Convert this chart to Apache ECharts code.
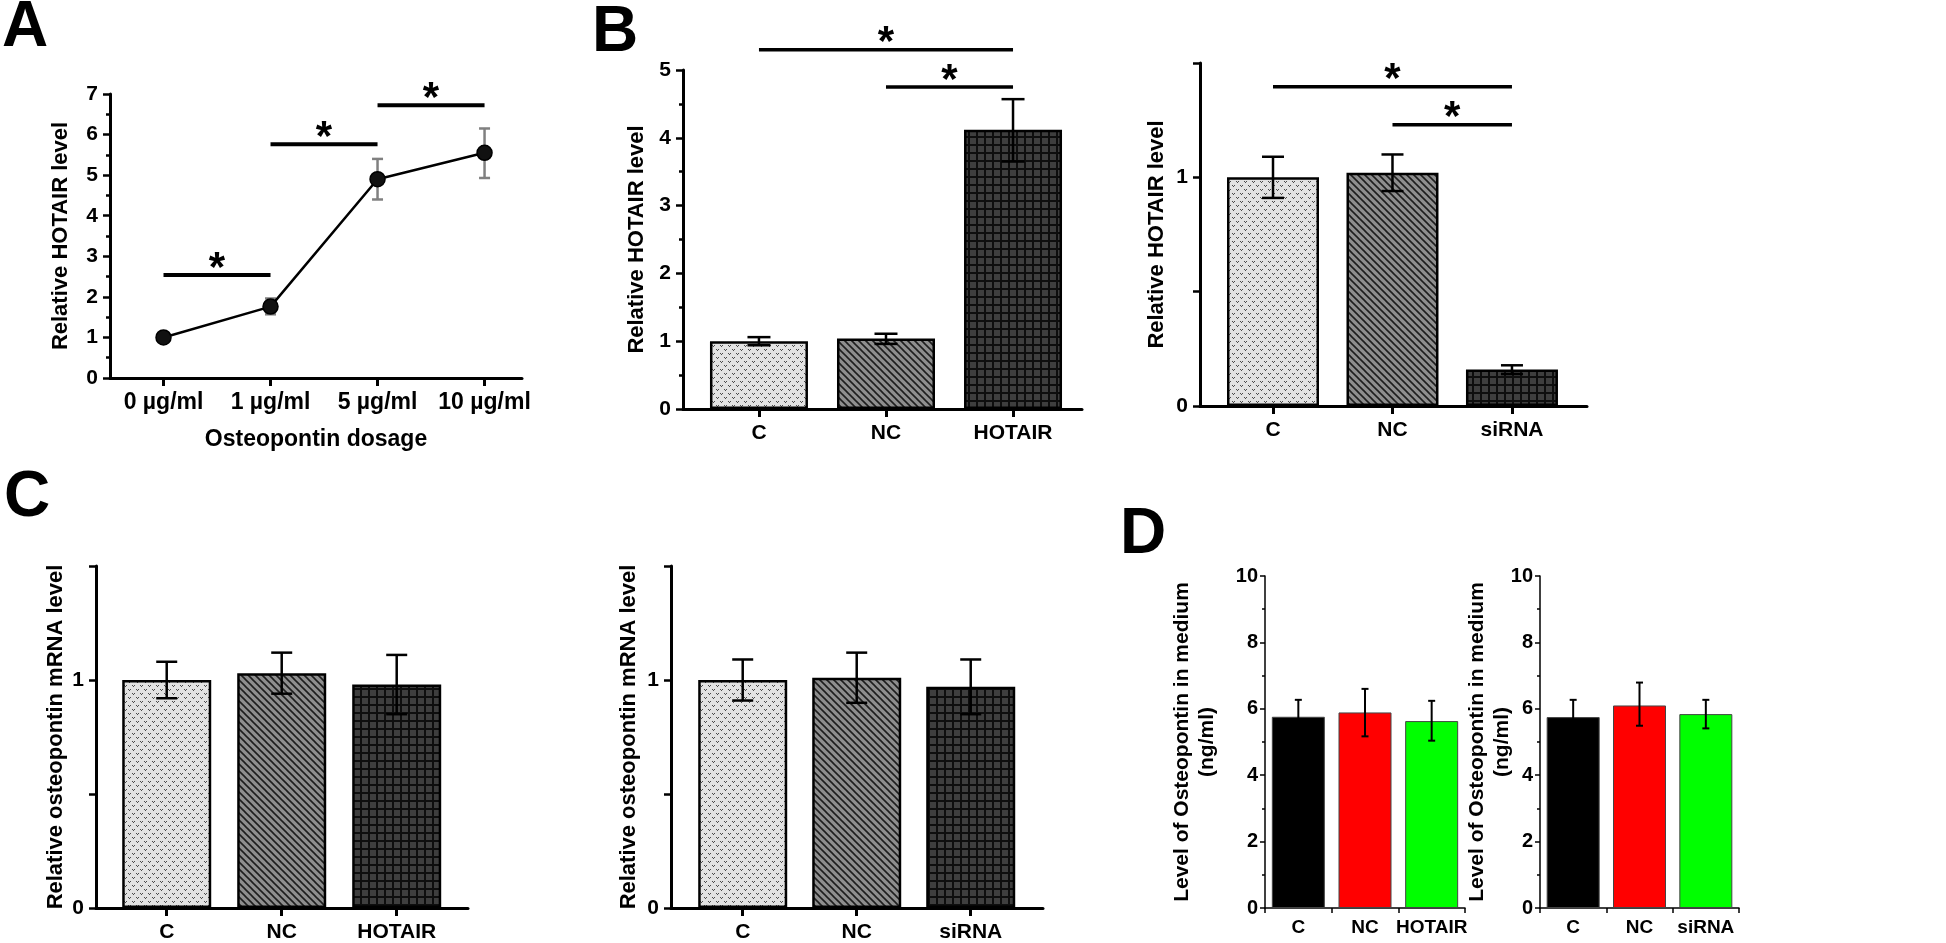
<!DOCTYPE html>
<html><head><meta charset="utf-8">
<script src="https://cdn.jsdelivr.net/npm/echarts@6/dist/echarts.min.js"></script>
<style>html,body{margin:0;padding:0;background:#fff}#c{width:1946px;height:943px}</style>
</head><body><div id="c"></div>
<script>
// ---------- DATA ----------
const aCats = ['0 µg/ml', '1 µg/ml', '5 µg/ml', '10 µg/ml'];
const aMean = [1.0, 1.76, 4.9, 5.55];
const aLow  = [0.95, 1.57, 4.4, 4.93];
const aHigh = [1.05, 1.96, 5.4, 6.15];
const aSig  = [[0, 1, 2.54], [1, 2, 5.76], [2, 3, 6.72]];

const oeCats = ['C', 'NC', 'HOTAIR'];
const kdCats = ['C', 'NC', 'siRNA'];

const bOEMean = [1.0, 1.04, 4.12];
const bOELow  = [0.94, 0.96, 3.65];
const bOEHigh = [1.06, 1.11, 4.57];
const bOESig  = [[0, 2, 5.3], [1, 2, 4.75]];

const bKDMean = [1.0, 1.02, 0.16];
const bKDLow  = [0.91, 0.94, 0.14];
const bKDHigh = [1.09, 1.10, 0.178];
const bKDSig  = [[0, 2, 1.396], [1, 2, 1.23]];

const cOEMean = [1.0, 1.03, 0.98];
const cOELow  = [0.92, 0.94, 0.85];
const cOEHigh = [1.08, 1.12, 1.11];

const cKDMean = [1.0, 1.01, 0.97];
const cKDLow  = [0.91, 0.90, 0.85];
const cKDHigh = [1.09, 1.12, 1.09];

const dOEMean = [5.76, 5.89, 5.63];
const dOELow  = [5.25, 5.17, 5.04];
const dOEHigh = [6.27, 6.60, 6.24];

const dKDMean = [5.75, 6.10, 5.84];
const dKDLow  = [5.23, 5.49, 5.41];
const dKDHigh = [6.27, 6.79, 6.27];

const dColors = ['#000000', '#ff0000', '#00ff00'];

// ---------- PATTERNS ----------
function tile(w, h, draw) {
  const c = document.createElement('canvas'); c.width = w; c.height = h;
  const g = c.getContext('2d'); draw(g, w, h); return c;
}
const patDots = tile(8, 8, (g, w, h) => {
  g.fillStyle = '#e2e2e2'; g.fillRect(0, 0, w, h);
  g.fillStyle = '#4a4a4a';
  const v = (x, y) => { g.fillRect(x, y, 1, 1); g.fillRect(x + 2, y, 1, 1); g.fillRect(x + 1, y + 1, 1, 1); };
  v(0, 1); v(4, 5);
});
const patDiag = tile(7, 7, (g, w, h) => {
  g.fillStyle = '#8e8e8e'; g.fillRect(0, 0, w, h);
  g.strokeStyle = '#1e1e1e'; g.lineWidth = 1.6;
  [-w, 0, w].forEach(ox => { g.beginPath(); g.moveTo(ox - 1, -1); g.lineTo(ox + w + 1, h + 1); g.stroke(); });
});
const patGrid = tile(8, 8, (g, w, h) => {
  g.fillStyle = '#3e3e3e'; g.fillRect(0, 0, w, h);
  g.fillStyle = '#0e0e0e'; g.fillRect(0, 0, w, 2); g.fillRect(0, 0, 2, h);
});
const patterns = [patDots, patDiag, patGrid].map(img => ({ image: img, repeat: 'repeat' }));

// ---------- HELPERS ----------
const FF = '"Liberation Sans", Arial, sans-serif';

function errSeries(idx, xs, lo, hi, cap, color, lw) {
  return {
    type: 'custom', xAxisIndex: idx, yAxisIndex: idx, z: 5, silent: true,
    data: xs.map((x, i) => [x, lo[i], hi[i]]),
    renderItem: (p, api) => {
      const x = api.value(0);
      const a = api.coord([x, api.value(1)]), b = api.coord([x, api.value(2)]);
      const st = { stroke: color, lineWidth: lw };
      return { type: 'group', children: [
        { type: 'line', shape: { x1: a[0], y1: a[1], x2: b[0], y2: b[1] }, style: st },
        { type: 'line', shape: { x1: a[0] - cap / 2, y1: a[1], x2: a[0] + cap / 2, y2: a[1] }, style: st },
        { type: 'line', shape: { x1: b[0] - cap / 2, y1: b[1], x2: b[0] + cap / 2, y2: b[1] }, style: st }
      ]};
    }
  };
}
function sigSeries(idx, sig, lw) {
  return {
    type: 'custom', xAxisIndex: idx, yAxisIndex: idx, z: 6, silent: true,
    data: sig,
    renderItem: (p, api) => {
      const y = api.value(2);
      const a = api.coord([api.value(0), y]), b = api.coord([api.value(1), y]);
      return { type: 'group', children: [
        { type: 'line', shape: { x1: a[0], y1: a[1], x2: b[0], y2: b[1] }, style: { stroke: '#000', lineWidth: lw } },
        { type: 'text', style: { text: '*', x: (a[0] + b[0]) / 2, y: a[1] + 15, align: 'center', verticalAlign: 'bottom',
          font: 'bold 42px ' + FF, fill: '#000' } }
      ]};
    }
  };
}
function valX(idx, min, max, cats) {
  const cv = cats.map((c, i) => i);
  return {
    type: 'value', gridIndex: idx, min: min, max: max,
    axisLine: { show: true, onZero: false, lineStyle: { color: '#000', width: 3 } },
    axisTick: { show: true, customValues: cv, length: 8, lineStyle: { color: '#000', width: 3 } },
    axisLabel: { show: true, customValues: cv, formatter: v => cats[Math.round(v)] || '',
      color: '#000', fontFamily: FF, fontWeight: 'bold', fontSize: 21, margin: 14 },
    splitLine: { show: false }
  };
}
function valY(idx, max, interval, name, gap, fmt, minor) {
  const o = {
    type: 'value', gridIndex: idx, min: 0, max: max, interval: interval,
    name: name, nameLocation: 'middle', nameGap: gap, nameRotate: 90, nameMoveOverlap: false,
    nameTextStyle: { color: '#000', fontFamily: FF, fontWeight: 'bold', fontSize: 22, align: 'center' },
    axisLine: { show: true, onZero: false, lineStyle: { color: '#000', width: 3 } },
    axisTick: { show: true, length: 7, lineStyle: { color: '#000', width: 2.5 } },
    axisLabel: { color: '#000', fontFamily: FF, fontWeight: 'bold', fontSize: 21, margin: 12, formatter: fmt },
    splitLine: { show: false }
  };
  if (minor) o.minorTick = { show: true, splitNumber: 2, length: 4, lineStyle: { color: '#000', width: 2.5 } };
  return o;
}
function barSeries(idx, mean, width) {
  return {
    type: 'bar', xAxisIndex: idx, yAxisIndex: idx, barWidth: width, z: 3, silent: true,
    data: mean.map((v, i) => ({ value: [i, v], itemStyle: { color: patterns[i] } })),
    itemStyle: { borderColor: '#000', borderWidth: 2.5 }
  };
}
const fmt01 = v => (v === 0 || v === 1) ? String(v) : '';

// ---------- GRIDS ----------
const grids = [
  { left: 110, top: 94, width: 412, height: 284 },   // A
  { left: 683, top: 70, width: 399, height: 339 },   // B over-expression
  { left: 1200, top: 63, width: 387, height: 343 },  // B knock-down
  { left: 96, top: 566, width: 372, height: 342 },   // C over-expression
  { left: 671, top: 566, width: 372, height: 342 },  // C knock-down
  { left: 1265, top: 576, width: 200, height: 332 }, // D over-expression
  { left: 1540, top: 576, width: 199, height: 332 }  // D knock-down
];

const xA = valX(0, -0.5, 3.35, aCats);
xA.axisLabel.fontSize = 23; xA.axisLabel.margin = 13;
xA.name = 'Osteopontin dosage'; xA.nameLocation = 'middle'; xA.nameGap = 50; xA.nameMoveOverlap = false;
xA.nameTextStyle = { color: '#000', fontFamily: FF, fontWeight: 'bold', fontSize: 23 };

function dX(idx, cats) {
  return {
    type: 'category', gridIndex: idx, data: cats, boundaryGap: true,
    axisLine: { onZero: false, lineStyle: { color: '#000', width: 1.5 } },
    axisTick: { show: true, length: 5, lineStyle: { color: '#000', width: 1.5 } },
    axisLabel: { color: '#000', fontFamily: FF, fontWeight: 'bold', fontSize: 19, margin: 10, interval: 0 }
  };
}
function dY(idx, gap) {
  return {
    type: 'value', gridIndex: idx, min: 0, max: 10, interval: 2,
    name: 'Level of Osteopontin in medium\n(ng/ml)', nameLocation: 'middle', nameGap: gap, nameRotate: 90,
    nameMoveOverlap: false,
    nameTextStyle: { color: '#000', fontFamily: FF, fontWeight: 'bold', fontSize: 21, align: 'center', lineHeight: 25 },
    axisLine: { show: true, onZero: false, lineStyle: { color: '#000', width: 1.5 } },
    axisTick: { show: true, length: 5, lineStyle: { color: '#000', width: 1.5 } },
    minorTick: { show: true, splitNumber: 2, length: 3, lineStyle: { color: '#000', width: 1.5 } },
    axisLabel: { color: '#000', fontFamily: FF, fontWeight: 'bold', fontSize: 20, margin: 7 },
    splitLine: { show: false }
  };
}
function dBars(idx, mean) {
  return {
    type: 'bar', xAxisIndex: idx, yAxisIndex: idx, barWidth: 53, z: 3, silent: true,
    data: mean.map((v, i) => ({ value: v, itemStyle: { color: dColors[i] } })),
    itemStyle: { borderColor: '#444', borderWidth: 1 }
  };
}

const letter = (t, l, tp) => ({ text: t, left: l, top: tp, padding: 0,
  textStyle: { fontFamily: FF, fontWeight: 'bold', fontSize: 64, color: '#000' } });

const option = {
  animation: false,
  backgroundColor: '#fff',
  title: [letter('A', 2, -4), letter('B', 592, 1), letter('C', 4, 466), letter('D', 1120, 503)],
  grid: grids,
  xAxis: [
    xA,
    valX(1, -0.598, 2.543, oeCats),
    valX(2, -0.611, 2.628, kdCats),
    valX(3, -0.615, 2.62, oeCats),
    valX(4, -0.629, 2.634, kdCats),
    dX(5, oeCats),
    dX(6, kdCats)
  ],
  yAxis: [
    valY(0, 7, 1, 'Relative HOTAIR level', 38, null, true),
    valY(1, 5, 1, 'Relative HOTAIR level', 35, null, true),
    valY(2, 1.5, 0.5, 'Relative HOTAIR level', 32, fmt01, false),
    valY(3, 1.5, 0.5, 'Relative osteopontin mRNA level', 29, fmt01, false),
    valY(4, 1.5, 0.5, 'Relative osteopontin mRNA level', 31, fmt01, false),
    dY(5, 45),
    dY(6, 25)
  ],
  series: [
    // A
    errSeries(0, [0, 1, 2, 3], aLow, aHigh, 11, '#808080', 2.5),
    { type: 'line', xAxisIndex: 0, yAxisIndex: 0, z: 7, silent: true,
      data: aMean.map((v, i) => [i, v]),
      symbol: 'circle', symbolSize: 15,
      lineStyle: { color: '#000', width: 2.5 },
      itemStyle: { color: '#111', borderColor: '#000', borderWidth: 1.5 } },
    sigSeries(0, aSig, 4),
    // B
    barSeries(1, bOEMean, 98),
    errSeries(1, [0, 1, 2], bOELow, bOEHigh, 23, '#000', 2.5),
    sigSeries(1, bOESig, 3.5),
    barSeries(2, bKDMean, 92),
    errSeries(2, [0, 1, 2], bKDLow, bKDHigh, 22, '#000', 2.5),
    sigSeries(2, bKDSig, 3.5),
    // C
    barSeries(3, cOEMean, 89),
    errSeries(3, [0, 1, 2], cOELow, cOEHigh, 21, '#000', 2.5),
    barSeries(4, cKDMean, 89),
    errSeries(4, [0, 1, 2], cKDLow, cKDHigh, 21, '#000', 2.5),
    // D
    dBars(5, dOEMean),
    errSeries(5, [0, 1, 2], dOELow, dOEHigh, 7, '#000', 2),
    dBars(6, dKDMean),
    errSeries(6, [0, 1, 2], dKDLow, dKDHigh, 7, '#000', 2)
  ]
};
const chart = echarts.init(document.getElementById('c'), null, { renderer: 'canvas' });
chart.setOption(option);
</script></body></html>
